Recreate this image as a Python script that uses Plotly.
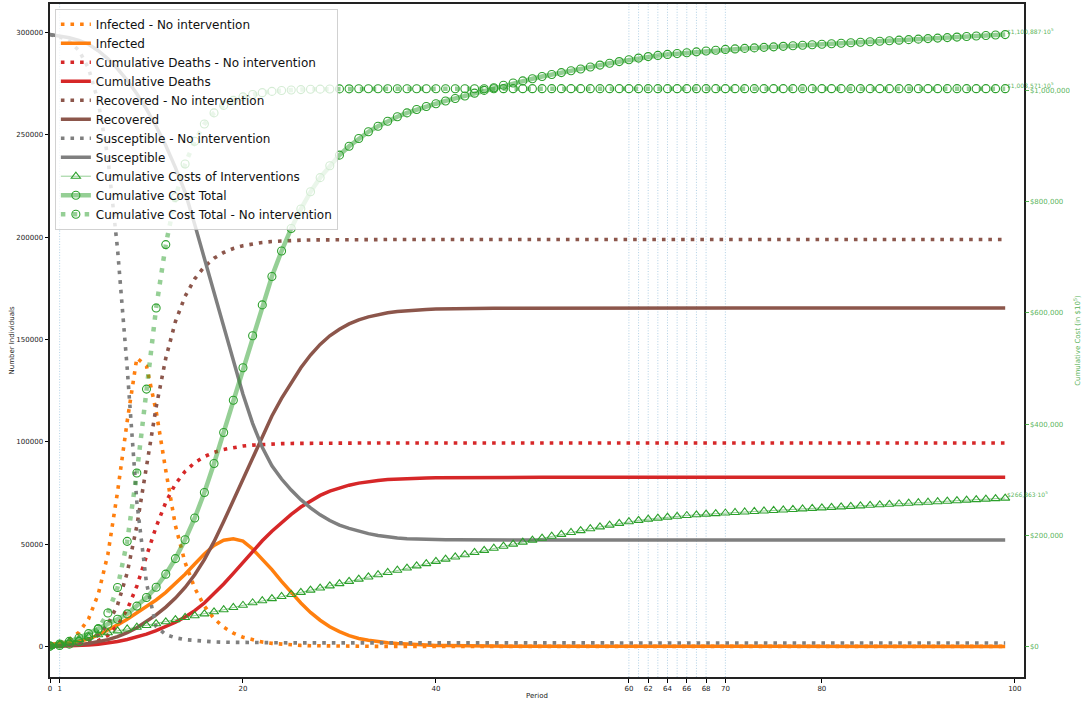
import plotly.graph_objects as go

periods = list(range(100))

infected_no_int = [
    1000, 1800, 3400, 6800, 13500, 25500, 45000, 75500, 110000, 141000,
    137000, 115000, 86000, 59000, 41000, 28500, 19700, 13600, 9400, 6500,
    4500, 3100, 2150, 1500, 1030, 710, 490, 340, 235, 160,
    110, 77, 53, 37, 25, 17, 12, 8, 6, 4,
    3, 2, 1, 1, 1, 0, 0, 0, 0, 0,
    0, 0, 0, 0, 0, 0, 0, 0, 0, 0,
    0, 0, 0, 0, 0, 0, 0, 0, 0, 0,
    0, 0, 0, 0, 0, 0, 0, 0, 0, 0,
    0, 0, 0, 0, 0, 0, 0, 0, 0, 0,
    0, 0, 0, 0, 0, 0, 0, 0, 0, 0,
]
infected = [
    1000, 1350, 1800, 2500, 3600, 5600, 7900, 10500, 13300, 16300,
    19400, 22700, 26400, 30600, 35300, 40300, 45200, 49300, 51900, 52600,
    51500, 47600, 42700, 37500, 31800, 26300, 21200, 16600, 12800, 9600,
    7200, 5300, 3900, 3000, 2300, 1800, 1400, 1100, 850, 650,
    500, 390, 300, 230, 180, 140, 110, 85, 65, 50,
    40, 30, 23, 18, 14, 11, 8, 6, 5, 4,
    3, 2, 2, 1, 1, 1, 1, 1, 1, 0,
    0, 0, 0, 0, 0, 0, 0, 0, 0, 0,
    0, 0, 0, 0, 0, 0, 0, 0, 0, 0,
    0, 0, 0, 0, 0, 0, 0, 0, 0, 0,
]
deaths_no_int = [
    0, 104, 292, 646, 1356, 2763, 5422, 10113, 17984, 29452,
    44152, 58435, 70424, 79390, 85542, 89816, 92787, 94841, 96259, 97239,
    97917, 98386, 98709, 98933, 99090, 99197, 99271, 99322, 99358, 99382,
    99399, 99410, 99418, 99424, 99428, 99430, 99432, 99433, 99434, 99435,
    99435, 99435, 99435, 99435, 99435, 99435, 99435, 99435, 99435, 99435,
    99435, 99435, 99435, 99435, 99435, 99435, 99435, 99435, 99435, 99435,
    99435, 99435, 99435, 99435, 99435, 99435, 99435, 99435, 99435, 99435,
    99435, 99435, 99435, 99435, 99435, 99435, 99435, 99435, 99435, 99435,
    99435, 99435, 99435, 99435, 99435, 99435, 99435, 99435, 99435, 99435,
    99435, 99435, 99435, 99435, 99435, 99435, 99435, 99435, 99435, 99435,
]
deaths = [
    0, 100, 240, 430, 700, 1100, 1650, 2400, 3350, 4550,
    6000, 7700, 9600, 11800, 14400, 17500, 21200, 25600, 30500, 35700,
    41000, 46400, 51600, 56300, 60600, 64500, 68100, 71200, 73800, 75900,
    77500, 78800, 79800, 80530, 81100, 81520, 81830, 82050, 82220, 82340,
    82430, 82490, 82540, 82570, 82600, 82610, 82630, 82640, 82640, 82650,
    82650, 82660, 82660, 82660, 82660, 82660, 82670, 82670, 82670, 82670,
    82670, 82670, 82670, 82670, 82670, 82670, 82670, 82670, 82670, 82670,
    82670, 82670, 82670, 82670, 82670, 82670, 82670, 82670, 82670, 82670,
    82670, 82670, 82670, 82670, 82670, 82670, 82670, 82670, 82670, 82670,
    82670, 82670, 82670, 82670, 82670, 82670, 82670, 82670, 82670, 82670,
]
recovered_no_int = [
    0, 209, 584, 1293, 2711, 5526, 10843, 20225, 35968, 58904,
    88304, 116870, 140848, 158780, 171083, 179631, 185574, 189682, 192518, 194478,
    195833, 196772, 197418, 197866, 198179, 198394, 198542, 198644, 198715, 198764,
    198797, 198820, 198836, 198847, 198855, 198860, 198864, 198866, 198868, 198869,
    198870, 198871, 198871, 198871, 198871, 198871, 198871, 198871, 198871, 198871,
    198871, 198871, 198871, 198871, 198871, 198871, 198871, 198871, 198871, 198871,
    198871, 198871, 198871, 198871, 198871, 198871, 198871, 198871, 198871, 198871,
    198871, 198871, 198871, 198871, 198871, 198871, 198871, 198871, 198871, 198871,
    198871, 198871, 198871, 198871, 198871, 198871, 198871, 198871, 198871, 198871,
    198871, 198871, 198871, 198871, 198871, 198871, 198871, 198871, 198871, 198871,
]
recovered = [
    0, 200, 480, 860, 1400, 2200, 3300, 4800, 6700, 9100,
    12000, 15400, 19200, 23600, 28800, 35000, 42400, 51200, 61000, 71400,
    82000, 92800, 103200, 112600, 121200, 129000, 136200, 142400, 147600, 151800,
    155000, 157600, 159600, 161070, 162200, 163030, 163670, 164100, 164430, 164680,
    164860, 164990, 165080, 165150, 165190, 165230, 165250, 165270, 165290, 165300,
    165310, 165310, 165320, 165320, 165320, 165320, 165330, 165330, 165330, 165330,
    165330, 165330, 165330, 165330, 165330, 165330, 165330, 165330, 165330, 165330,
    165330, 165330, 165330, 165330, 165330, 165330, 165330, 165330, 165330, 165330,
    165330, 165330, 165330, 165330, 165330, 165330, 165330, 165330, 165330, 165330,
    165330, 165330, 165330, 165330, 165330, 165330, 165330, 165330, 165330, 165330,
]
susceptible_no_int = [
    299000, 297887, 295724, 291261, 282433, 266211, 238735, 194162, 136048, 70644,
    31000, 9700, 5800, 4200, 3300, 2800, 2450, 2200, 2050, 1950,
    1880, 1830, 1790, 1765, 1745, 1730, 1720, 1712, 1706, 1702,
    1699, 1697, 1696, 1695, 1695, 1694, 1694, 1694, 1694, 1694,
    1694, 1694, 1694, 1694, 1694, 1694, 1694, 1694, 1694, 1694,
    1694, 1694, 1694, 1694, 1694, 1694, 1694, 1694, 1694, 1694,
    1694, 1694, 1694, 1694, 1694, 1694, 1694, 1694, 1694, 1694,
    1694, 1694, 1694, 1694, 1694, 1694, 1694, 1694, 1694, 1694,
    1694, 1694, 1694, 1694, 1694, 1694, 1694, 1694, 1694, 1694,
    1694, 1694, 1694, 1694, 1694, 1694, 1694, 1694, 1694, 1694,
]
susceptible = [
    299000, 298350, 297480, 296210, 294300, 291100, 287150, 282300, 276650, 270050,
    262600, 254200, 244800, 234000, 222000, 206200, 189500, 172500, 155800, 139200,
    123200, 109000, 97300, 88300, 81800, 76400, 71700, 67700, 64300, 61500,
    59300, 57700, 56300, 55100, 54200, 53500, 53000, 52650, 52430, 52280,
    52180, 52110, 52070, 52045, 52030, 52020, 52012, 52007, 52004, 52002,
    52001, 52000, 52000, 52000, 52000, 52000, 52000, 52000, 52000, 52000,
    52000, 52000, 52000, 52000, 52000, 52000, 52000, 52000, 52000, 52000,
    52000, 52000, 52000, 52000, 52000, 52000, 52000, 52000, 52000, 52000,
    52000, 52000, 52000, 52000, 52000, 52000, 52000, 52000, 52000, 52000,
    52000, 52000, 52000, 52000, 52000, 52000, 52000, 52000, 52000, 52000,
]
cost_interventions = [
    0, 4000, 8000, 12500, 17000, 21000, 24500, 28000, 31300, 34500,
    37700, 40900, 44300, 48200, 52000, 55200, 58500, 62300, 66000, 70000,
    74000, 78500, 82200, 86000, 89800, 93500, 97200, 101200, 105000, 109000,
    113000, 117000, 121000, 125000, 129000, 133000, 137000, 141000, 145000, 149000,
    153000, 157000, 161000, 165000, 169000, 172800, 176600, 180300, 184000, 187600,
    191200, 194700, 198200, 201600, 205000, 208400, 211700, 215000, 218200, 221300,
    224300, 226800, 229000, 230900, 232600, 234100, 235500, 236800, 238000, 239000,
    240000, 240930, 241850, 242780, 243700, 244630, 245550, 246480, 247400, 248330,
    249250, 250180, 251100, 252030, 252950, 253880, 254800, 255730, 256650, 257580,
    258500, 259430, 260350, 261280, 262200, 263130, 264050, 264980, 265900, 266863,
]
cost_total = [
    600, 4300, 9000, 15000, 23000, 31000, 40000, 49000, 58500, 72500,
    88000, 106500, 130000, 158000, 192000, 231000, 277000, 329000, 385000, 443000,
    501500, 559000, 614500, 665500, 711500, 752000, 787000, 818000, 843500, 865000,
    884000, 900000, 914000, 926000, 936000, 945000, 953000, 960000, 966000, 971500,
    976500, 981500, 986000, 990500, 995500, 1000500, 1005300, 1009700, 1013800, 1017600,
    1021500, 1025500, 1029200, 1032500, 1035700, 1039000, 1042500, 1046000, 1049200, 1052300,
    1055500, 1058600, 1061300, 1063400, 1065200, 1066800, 1068300, 1069800, 1071300, 1072800,
    1074200, 1075130, 1076050, 1076980, 1077900, 1078830, 1079750, 1080680, 1081600, 1082530,
    1083450, 1084380, 1085300, 1086230, 1087150, 1088080, 1089000, 1089930, 1090850, 1091780,
    1092700, 1093630, 1094550, 1095480, 1096400, 1097330, 1098250, 1099180, 1100100, 1100887,
]
cost_total_no_int = [
    500, 1800, 4100, 8600, 17500, 32000, 60000, 106000, 189000, 312000,
    463000, 609000, 723000, 808000, 868000, 909000, 940000, 960000, 973500, 982500,
    988800, 993200, 996400, 998700, 1000200, 1001200, 1001900, 1002400, 1002750, 1003000,
    1003170, 1003290, 1003370, 1003430, 1003470, 1003500, 1003520, 1003535, 1003545, 1003552,
    1003557, 1003561, 1003564, 1003566, 1003567, 1003568, 1003569, 1003570, 1003570, 1003571,
    1003571, 1003571, 1003571, 1003571, 1003571, 1003571, 1003571, 1003571, 1003571, 1003571,
    1003571, 1003571, 1003571, 1003571, 1003571, 1003571, 1003571, 1003571, 1003571, 1003571,
    1003571, 1003571, 1003571, 1003571, 1003571, 1003571, 1003571, 1003571, 1003571, 1003571,
    1003571, 1003571, 1003571, 1003571, 1003571, 1003571, 1003571, 1003571, 1003571, 1003571,
    1003571, 1003571, 1003571, 1003571, 1003571, 1003571, 1003571, 1003571, 1003571, 1003571,
]

event_periods = [1, 60, 61, 62, 63, 64, 65, 66, 67, 68, 70]
x_tick_vals = [0, 1, 20, 40, 60, 62, 64, 66, 68, 70, 80, 100]
y_tick_vals = [0, 50000, 100000, 150000, 200000, 250000, 300000]
cost_tick_vals = [0, 200000, 400000, 600000, 800000, 1000000]

FONT = "DejaVu Sans"
ORANGE, RED, BROWN, GRAY, GREEN = "#ff7f0e", "#d62728", "#8c564b", "#7f7f7f", "#2ca02c"
LIGHT_GREEN = "rgba(44,160,44,0.5)"
GREEN_TEXT = "rgba(44,160,44,0.8)"
DOT = "3.6px,6px"

fig = go.Figure()


def add_line(y, name, color, dotted):
    fig.add_trace(go.Scatter(
        x=periods, y=y, name=name, mode="lines",
        line=dict(color=color, width=3.6 if dotted else 3.5, dash=DOT if dotted else "solid"),
    ))


add_line(infected_no_int, "Infected - No intervention", ORANGE, True)
add_line(infected, "Infected", ORANGE, False)
add_line(deaths_no_int, "Cumulative Deaths - No intervention", RED, True)
add_line(deaths, "Cumulative Deaths", RED, False)
add_line(recovered_no_int, "Recovered - No intervention", BROWN, True)
add_line(recovered, "Recovered", BROWN, False)
add_line(susceptible_no_int, "Susceptible - No intervention", GRAY, True)
add_line(susceptible, "Susceptible", GRAY, False)

# cost series on the secondary axis
fig.add_trace(go.Scatter(
    x=periods, y=cost_interventions, name="Cumulative Costs of Interventions",
    mode="lines+markers", yaxis="y2",
    line=dict(color=LIGHT_GREEN, width=1),
    marker=dict(symbol="triangle-up-open", size=8, color=GREEN, line=dict(width=1.1, color=GREEN)),
))
fig.add_trace(go.Scatter(
    x=periods, y=cost_total, name="Cumulative Cost Total",
    mode="lines+markers", yaxis="y2",
    line=dict(color=LIGHT_GREEN, width=4.5),
    marker=dict(symbol="circle-open", size=8, color=GREEN, line=dict(width=1.1, color=GREEN)),
))
fig.add_trace(go.Scatter(
    x=periods, y=cost_total_no_int, name="Cumulative Cost Total - No intervention",
    mode="lines+markers", yaxis="y2",
    line=dict(color=LIGHT_GREEN, width=4.5, dash="4.5px,7.4px"),
    marker=dict(symbol="circle-open", size=8, color=GREEN, line=dict(width=1.1, color=GREEN)),
))

shapes = [
    dict(type="line", xref="x", yref="paper", x0=p, x1=p, y0=0, y1=1, layer="below",
         line=dict(color="rgba(31,119,180,0.35)", width=1, dash="1px,1.7px"))
    for p in event_periods
]

annotations = []
for series in (cost_interventions, cost_total, cost_total_no_int):
    annotations.append(dict(
        x=periods[-1], y=series[-1], xref="x", yref="y2",
        text=f"${series[-1]:,}·10<sup>5</sup>", showarrow=False,
        xanchor="left", yanchor="bottom", yshift=-2,
        font=dict(family=FONT, size=6, color=GREEN_TEXT),
    ))

fig.update_layout(
    width=1090, height=702,
    margin=dict(l=50, r=66, t=2, b=25),
    paper_bgcolor="white", plot_bgcolor="white",
    font=dict(family=FONT, size=7, color="#222222"),
    showlegend=True,
    legend=dict(
        x=0.005, y=0.993, xanchor="left", yanchor="top",
        bgcolor="rgba(255,255,255,0.8)", bordercolor="rgba(204,204,204,0.9)", borderwidth=1,
        font=dict(family=FONT, size=12, color="#111111"),
        tracegroupgap=0, itemwidth=30,
    ),
    xaxis=dict(
        range=[0, 100.95], tickmode="array", tickvals=x_tick_vals,
        ticks="outside", ticklen=3.5, tickwidth=1, tickcolor="#000000",
        showgrid=False, zeroline=False,
        showline=True, mirror=True, linecolor="#222222", linewidth=2,
        title=dict(text="Period", font=dict(size=7), standoff=1),
        tickfont=dict(size=7),
    ),
    yaxis=dict(
        range=[-14950, 313950], tickmode="array", tickvals=y_tick_vals,
        tickformat="d",
        ticks="outside", ticklen=3.5, tickwidth=1, tickcolor="#000000",
        showgrid=False, zeroline=False,
        showline=True, mirror=True, linecolor="#222222", linewidth=2,
        title=dict(text="Number Individuals", font=dict(size=7), standoff=1),
        tickfont=dict(size=7),
    ),
    yaxis2=dict(
        range=[-55044, 1155931], overlaying="y", side="right",
        tickmode="array", tickvals=cost_tick_vals,
        ticktext=[f"${v:,}" for v in cost_tick_vals],
        ticks="outside", ticklen=3.5, tickwidth=1, tickcolor=GREEN_TEXT,
        showgrid=False, zeroline=False, showline=False,
        title=dict(text="Cumulative Cost (in $10<sup>5</sup>)", font=dict(size=7, color=GREEN_TEXT), standoff=6),
        tickfont=dict(size=7, color=GREEN_TEXT),
    ),
    shapes=shapes,
    annotations=annotations,
)

fig.write_html("out.html")
